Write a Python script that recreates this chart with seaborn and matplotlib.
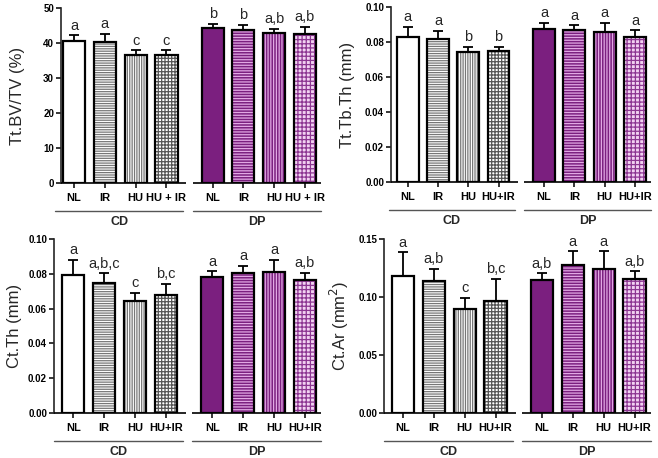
import numpy as np
import pandas as pd
import matplotlib
matplotlib.use("Agg")
import matplotlib.pyplot as plt
import matplotlib.colors as mcolors
import matplotlib.transforms as mtrans
from matplotlib.ticker import FormatStrFormatter
import seaborn as sns

# groups and treatments
diets = ["CD", "DP"]
treatments = ["NL", "IR", "HU", "HU+IR"]
treatments_tl = ["NL", "IR", "HU", "HU + IR"]

# panel values (CD NL, IR, HU, HU+IR, DP NL, IR, HU, HU+IR)
bvtv = [40.7, 40.4, 36.6, 36.6, 44.2, 43.7, 42.8, 42.6]
bvtv_err = [1.5, 2.2, 1.3, 1.3, 1.3, 1.4, 1.2, 2.0]
bvtv_let = ["a", "a", "c", "c", "b", "b", "a,b", "a,b"]

tbth = [0.0828, 0.0820, 0.0744, 0.0748, 0.0874, 0.0870, 0.0859, 0.0828]
tbth_err = [0.0060, 0.0042, 0.0027, 0.0023, 0.0036, 0.0025, 0.0050, 0.0038]
tbth_let = ["a", "a", "b", "b", "a", "a", "a", "a"]

ctth = [0.0794, 0.0746, 0.0646, 0.0679, 0.0779, 0.0804, 0.0810, 0.0765]
ctth_err = [0.0085, 0.0056, 0.0046, 0.0061, 0.0035, 0.0042, 0.0069, 0.0042]
ctth_let = ["a", "a,b,c", "c", "b,c", "a", "a", "a", "a,b"]

ctar = [0.1185, 0.1134, 0.0897, 0.0969, 0.1145, 0.1278, 0.1240, 0.1154]
ctar_err = [0.0200, 0.0110, 0.0092, 0.0185, 0.0058, 0.0115, 0.0153, 0.0066]
ctar_let = ["a", "a,b", "c", "b,c", "a,b", "a", "a", "a,b"]

purple = "#7b1f7f"
faces = ["white", "white", "white", "white", purple, purple, purple, "#f2d2f2"]
hatches = [None, "-------", "|||||||", "+++++", None, "------", "||||||", "++++"]
hatch_cols = ["#777777", "#777777", "#777777", "#555555",
              "#e2a8e4", "#e2a8e4", "#e2a8e4", "#8c3592"]

sns.set_style("ticks")
plt.rcParams["font.family"] = ["Liberation Sans", "DejaVu Sans"]
plt.rcParams["hatch.linewidth"] = 0.9

fig = plt.figure(figsize=(6.58, 4.58), dpi=100)
W, H = 658, 458


def px_axes(left, right, top, bottom):
    return fig.add_axes([left / W, (H - bottom) / H, (right - left) / W, (bottom - top) / H])


def draw_panel(ax, vals, errs, letters, ylabel, ymax, ystep, fmt, xlim, tlabels, lab_x):
    pos = [d * 4.5 + t for d in range(len(diets)) for t in range(len(treatments))]
    df = pd.DataFrame({"pos": pos, "val": vals})
    sns.barplot(data=df, x="pos", y="val", native_scale=True, orient="x",
                width=0.72, errorbar=None, color="white", ax=ax, zorder=3)
    for p, fc, h, hc in zip(ax.patches, faces, hatches, hatch_cols):
        p.set_facecolor(fc)
        p.set_edgecolor("black")
        p.set_linewidth(1.6)
        if h:
            p.set_hatch(h)
            try:
                p.set_hatchcolor(hc)
            except AttributeError:
                p._hatch_color = mcolors.to_rgba(hc)
    errs = np.array(errs)
    ax.errorbar(pos, vals, yerr=[np.zeros_like(errs), errs], fmt="none",
                ecolor="black", elinewidth=1.3, capsize=3.5, capthick=1.3, zorder=2)
    for x, v, e, l in zip(pos, vals, errs, letters):
        ax.annotate(l, (x, v + e), xytext=(0, 2), textcoords="offset points",
                    ha="center", va="bottom", fontsize=10.5)

    ax.set_xlim(*xlim)
    ax.set_ylim(0, ymax)
    ax.set_yticks(np.arange(0, ymax + ystep / 2, ystep))
    ax.yaxis.set_major_formatter(FormatStrFormatter(fmt))
    ax.set_xticks(pos, tlabels * len(diets))
    ax.tick_params(axis="both", length=3.5, width=1.1, colors="black")
    ax.tick_params(axis="y", labelsize=7, pad=1.5)
    ax.tick_params(axis="x", labelsize=8, pad=4)
    for t in ax.get_xticklabels() + ax.get_yticklabels():
        t.set_fontweight("bold")
    ax.set_xlabel("")
    ax.set_ylabel(ylabel, fontsize=12)
    ax.yaxis.set_label_coords(lab_x, 0.5)
    ax.spines["top"].set_visible(False)
    ax.spines["right"].set_visible(False)
    ax.spines["bottom"].set_visible(False)
    ax.spines["left"].set_linewidth(1.2)

    # split x axis and group underline
    mid = (pos[3] + pos[4]) / 2
    segs = [(xlim[0], mid - 0.1), (mid + 0.1, xlim[1])]
    trans = mtrans.blended_transform_factory(ax.transData, ax.transAxes)
    under = [(pos[0] - 0.62, mid - 0.2), (mid + 0.1, xlim[1])]
    for (a, b), (c, d), name in zip(segs, under, diets):
        ax.plot([a, b], [0, 0], color="black", lw=1.2, clip_on=False,
                solid_capstyle="butt", zorder=4)
        ax.plot([c, d], [-0.16, -0.16], color="#555555", lw=1.0, clip_on=False,
                transform=trans)
        ax.text((c + d) / 2, -0.225, name, transform=trans, ha="center", va="center",
                fontsize=9, fontweight="bold")


ax1 = px_axes(61, 321, 8, 183)
draw_panel(ax1, bvtv, bvtv_err, bvtv_let, "Tt.BV/TV (%)", 50, 10, "%d",
           (-0.425, 8.02), treatments_tl, -0.14)

ax2 = px_axes(391, 651, 7, 182)
draw_panel(ax2, tbth, tbth_err, tbth_let, "Tt.Tb.Th (mm)", 0.10, 0.02, "%.2f",
           (-0.55, 8.03), treatments, -0.14)

ax3 = px_axes(54, 321, 239, 413)
draw_panel(ax3, ctth, ctth_err, ctth_let, "Ct.Th (mm)", 0.10, 0.02, "%.2f",
           (-0.62, 8.02), treatments, -0.12)

ax4 = px_axes(384, 651, 239, 413)
draw_panel(ax4, ctar, ctar_err, ctar_let, "Ct.Ar (mm$^2$)", 0.15, 0.05, "%.2f",
           (-0.61, 8.03), treatments, -0.125)

fig.savefig("out.png", dpi=100)
